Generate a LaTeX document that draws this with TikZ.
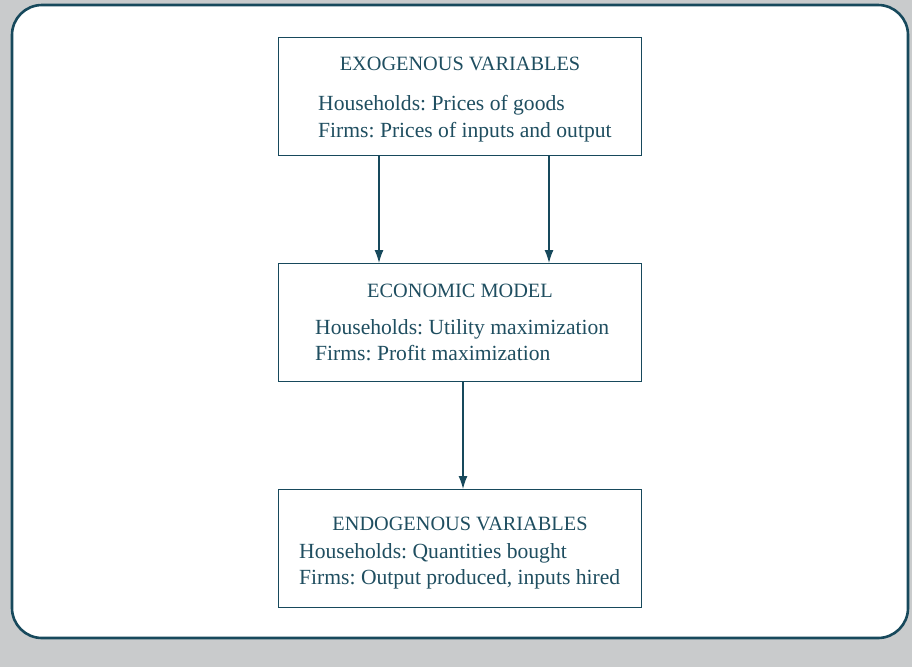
\documentclass[tikz,border=0pt]{standalone}
\usepackage{fontspec}
\setmainfont{Liberation Serif}
\usetikzlibrary{arrows.meta}
\frenchspacing
\definecolor{bggrey}{HTML}{C9CBCC}
\definecolor{teal}{HTML}{17495C}
\definecolor{txt}{HTML}{1F4E60}
\tikzset{
  boxnode/.style={draw=teal, line width=1.3pt, minimum width=363pt, minimum height=118pt, inner sep=0pt, anchor=north west},
  titletext/.style={text=txt, font=\fontsize{20.3}{24}\selectfont, anchor=base, inner sep=0pt},
  bodytext/.style={text=txt, font=\fontsize{21.6}{25}\selectfont, anchor=base west, inner sep=0pt},
  arr/.style={draw=teal, line width=1.3pt, -{Latex[length=13pt,width=9pt]}},
}
\begin{document}
\begin{tikzpicture}[x=1pt,y=-1pt]
\fill[bggrey] (0,0) rectangle (912,667);
\useasboundingbox (0,0) rectangle (912,667);
\draw[teal, fill=white, line width=2.6pt, rounded corners=30pt] (12,5) rectangle (908,638);
\node[boxnode] (exo) at (278,37) {};
\node[boxnode] (model) at (278,263) {};
\node[boxnode] (endo) at (278,489) {};
\node[titletext] (exot) at (460,70) {EXOGENOUS VARIABLES};
\node[bodytext] (exo1) at (318,110) {Households: Prices of goods};
\node[bodytext] (exo2) at (318,137) {Firms: Prices of inputs and output};
\node[titletext] (modt) at (460,297) {ECONOMIC MODEL};
\node[bodytext] (mod1) at (315,334) {Households: Utility maximization};
\node[bodytext] (mod2) at (315,360) {Firms: Profit maximization};
\node[titletext] (endt) at (460,530) {ENDOGENOUS VARIABLES};
\node[bodytext] (end1) at (299,558) {Households: Quantities bought};
\node[bodytext] (end2) at (299,584) {Firms: Output produced, inputs hired};
\coordinate (a1) at (379,0);
\coordinate (a2) at (549,0);
\coordinate (a3) at (463,0);
\draw[arr] (exo.south -| a1) -- (model.north -| a1);
\draw[arr] (exo.south -| a2) -- (model.north -| a2);
\draw[arr] (model.south -| a3) -- (endo.north -| a3);
\end{tikzpicture}
\end{document}
